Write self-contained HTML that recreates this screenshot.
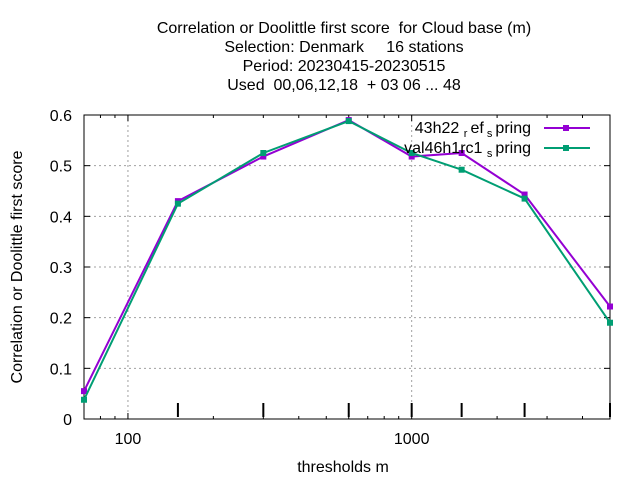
<!DOCTYPE html>
<html><head><meta charset="utf-8"><style>body{margin:0;background:#fff}svg{display:block}text{white-space:pre}</style></head>
<body>
<svg id="c" width="640" height="480" xmlns="http://www.w3.org/2000/svg" font-family="Liberation Sans, sans-serif" font-size="16">
<g text-anchor="middle" font-size="16">
<text x="344" y="33">Correlation or Doolittle first score  for Cloud base (m)</text>
<text x="344" y="52">Selection: Denmark     16 stations</text>
<text x="344" y="71">Period: 20230415-20230515</text>
<text x="344" y="90">Used  00,06,12,18  + 03 06 ... 48</text>
</g>
<g id="grid"></g>
<g id="axes"></g>
<g id="series"></g>
<text x="343" y="472" text-anchor="middle">thresholds m</text>
<text transform="translate(22,267) rotate(-90)" text-anchor="middle">Correlation or Doolittle first score</text>
<g>
<text x="531" y="133" text-anchor="end">43h22 <tspan font-size="11" dy="4">r </tspan><tspan dy="-4">ef</tspan><tspan font-size="11" dy="4"> s </tspan><tspan dy="-4">pring</tspan></text>
<line x1="544" y1="128" x2="590" y2="128" stroke="#9400d3" stroke-width="2"/>
<text x="531" y="153" text-anchor="end">val46h1rc1 <tspan font-size="11" dy="4">s </tspan><tspan dy="-4">pring</tspan></text>
<line x1="544" y1="148" x2="590" y2="148" stroke="#009e73" stroke-width="2"/>
<rect x="563" y="125" width="6" height="6" fill="#9400d3"/>
<rect x="563" y="145" width="6" height="6" fill="#009e73"/>
</g>
</svg>
<script>
const thresholds=[70,150,300,600,1000,1500,2500,5000];
const ref=[0.055,0.43,0.518,0.59,0.518,0.525,0.443,0.222];
const val=[0.038,0.425,0.525,0.588,0.525,0.492,0.435,0.19];
const yTicks=[0,0.1,0.2,0.3,0.4,0.5,0.6];
const xLabels=[100,1000];
const L=84,R=610,T=115,B=419,xmin=70,xmax=5000;
const NS='http://www.w3.org/2000/svg';
const X=v=>L+(Math.log10(v)-Math.log10(xmin))/(Math.log10(xmax)-Math.log10(xmin))*(R-L);
const Y=v=>B-v/0.6*(B-T);
function mk(t,a,p){const e=document.createElementNS(NS,t);for(const k in a)e.setAttribute(k,a[k]);p.appendChild(e);return e;}
const g=document.getElementById('grid'),ax=document.getElementById('axes'),s=document.getElementById('series');
yTicks.forEach(v=>{
 if(v>0&&v<0.6){const l=mk('line',{x1:L,x2:R,y1:Y(v),y2:Y(v),stroke:'#a0a0a0','stroke-dasharray':'2,3'},g);
 
 }
 mk('line',{x1:L,x2:L+6,y1:Y(v),y2:Y(v),stroke:'#000'},ax);
 mk('line',{x1:R,x2:R-6,y1:Y(v),y2:Y(v),stroke:'#000'},ax);
 const t=mk('text',{x:L-12,y:Y(v)+6,'text-anchor':'end'},ax);t.textContent=v===0?'0':v.toFixed(1);
 
 
});
xLabels.forEach(v=>{
 const l=mk('line',{x1:X(v),x2:X(v),y1:T,y2:B,stroke:'#a0a0a0','stroke-dasharray':'2,3'},g);
 
 
 mk('line',{x1:X(v),x2:X(v),y1:B,y2:B-6,stroke:'#000'},ax);
 mk('line',{x1:X(v),x2:X(v),y1:T,y2:T+6,stroke:'#000'},ax);
 const t=mk('text',{x:X(v),y:B+25,'text-anchor':'middle'},ax);t.textContent=v;
 
 
});
[80,90,200,300,400,500,600,700,800,900,2000,3000,4000,5000].forEach(v=>{
 mk('line',{x1:X(v),x2:X(v),y1:B,y2:B-3,stroke:'#000'},ax);
 mk('line',{x1:X(v),x2:X(v),y1:T,y2:T+3,stroke:'#000'},ax);
});
thresholds.slice(1).forEach(v=>mk('line',{x1:X(v),x2:X(v),y1:B-2,y2:B-16,stroke:'#000','stroke-width':2},ax));
const fr=mk('rect',{x:L,y:T,width:R-L,height:B-T,fill:'none',stroke:'#000'},ax);


function draw(data,col,name){
 const p=mk('polyline',{points:data.map((v,i)=>X(thresholds[i])+','+Y(v)).join(' '),fill:'none',stroke:col,'stroke-width':2},s);
 
 
 data.forEach((v,i)=>{const r=mk('rect',{x:X(thresholds[i])-3,y:Y(v)-3,width:6,height:6,fill:col},s);
 
 });
}
draw(ref,'#9400d3','ref-spring');
draw(val,'#009e73','val-spring');
</script>
</body></html>
